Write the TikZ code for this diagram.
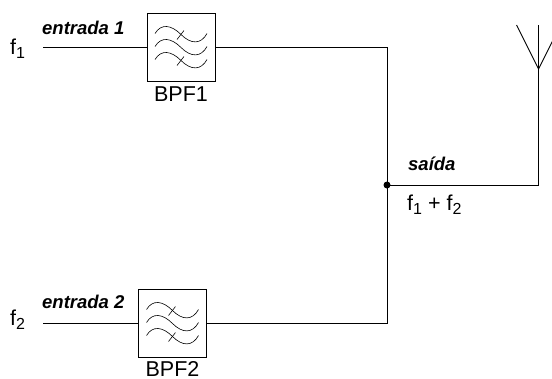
\documentclass[tikz,border=0pt]{standalone}
\usepackage{fontspec}
\setmainfont{Liberation Sans}
\usepackage{tikz}
\usetikzlibrary{positioning}
\tikzset{
  bpfbox/.style={draw, line width=1pt, minimum size=68pt, inner sep=0pt},
  inlabel/.style={font=\fontsize{18.5}{20}\selectfont\bfseries\itshape, inner sep=0pt},
  sigtext/.style={font=\fontsize{21.5}{24}\selectfont, inner sep=0pt},
  wire/.style={line width=0.9pt},
  inwire/.style={line width=1.5pt}
}
\newcommand{\sigsub}[1]{\raisebox{-0.22em}{\fontsize{16}{16}\selectfont #1}}
\newcommand{\bpfwaves}[1]{
  \foreach \off in {0,13,26} {
    \draw[line width=0.6pt, shift={(#1)}] (-26,-14+\off) .. controls (-20,-24+\off) and (-10,-23+\off) .. (0,-13+\off)
      .. controls (10,-3+\off) and (20,-3+\off) .. (26,-14+\off);
  }
  \foreach \off in {0,26} {
    \draw[line width=0.6pt, shift={(#1)}] (-4,-8+\off) -- (3,-17+\off);
  }
}
\begin{document}
\begin{tikzpicture}[x=1pt, y=-1pt]
\useasboundingbox (0,0) rectangle (552,378);
\node[bpfbox] (bpfa) at (181,47.5) {};
\node[bpfbox] (bpfb) at (172.5,323.5) {};
\bpfwaves{bpfa.center}
\bpfwaves{bpfb.center}
\node[sigtext, below=5pt of bpfa] (bpfalabel) {BPF1};
\node[sigtext, below=3.5pt of bpfb] (bpfblabel) {BPF2};
\coordinate (ina) at (43,47.5);
\coordinate (inb) at (43,323.5);
\coordinate (join) at (387,185);
\coordinate (cornera) at (387,47.5);
\coordinate (cornerb) at (387,323.5);
\coordinate (cornerc) at (538.5,185);
\coordinate (anttip) at (538.5,69);
\coordinate (anttop) at (538.5,25);
\coordinate (antleft) at (516.5,25);
\coordinate (antright) at (552.5,41);
\node[sigtext, anchor=base west] (fa) at (10,54) {f\sigsub{1}};
\node[sigtext, anchor=base west] (fb) at (10,325) {f\sigsub{2}};
\node[inlabel, anchor=base west] (entradaa) at (42,34) {entrada 1};
\node[inlabel, anchor=base west] (entradab) at (42,308) {entrada 2};
\node[inlabel, anchor=base west] (saida) at (408,170) {saída};
\node[sigtext, anchor=base west] (soma) at (407,210) {f\sigsub{1} + f\sigsub{2}};
\draw[inwire] (ina) -- (bpfa);
\draw[inwire] (inb) -- (bpfb);
\draw[wire] (bpfa) -- (cornera) -- (cornerb) -- (bpfb);
\draw[wire] (join) -- (cornerc) -- (anttop);
\draw[wire] (antleft) -- (anttip) -- (antright);
\fill (join) circle (3.5pt);
\end{tikzpicture}
\end{document}
